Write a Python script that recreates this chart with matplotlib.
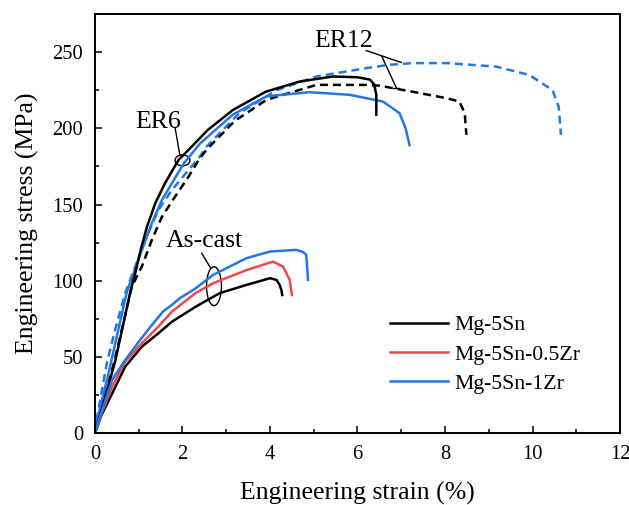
import matplotlib
matplotlib.use("Agg")
import matplotlib.pyplot as plt
from matplotlib.patches import Ellipse
from matplotlib.ticker import MultipleLocator

plt.rcParams['font.family'] = ['Liberation Serif', 'DejaVu Serif']
plt.rcParams['mathtext.fontset'] = 'stix'

# ---- data (strain %, stress MPa) ----
sn_er6_x = [0, 0.46, 0.81, 0.92, 1.05, 1.19, 1.38, 1.6, 1.91, 2.21, 2.58, 3.15, 3.9, 4.68, 5.44, 6.0, 6.28, 6.38, 6.43, 6.43]
sn_er6_y = [0, 47, 93, 105, 121, 135.6, 151, 164, 179.3, 188, 199, 212, 224, 230.7, 234, 233.5, 232, 229, 222, 209]

sn_er12_x = [0, 0.45, 0.84, 1.07, 1.3, 1.53, 1.83, 2.14, 2.37, 2.55, 3.2, 3.92, 5.06, 6.2, 6.5, 7.26, 8.03, 8.33, 8.45, 8.49]
sn_er12_y = [0, 48, 96, 109.3, 126.8, 142, 155.2, 168.4, 179.3, 186, 205, 218.7, 228.5, 228.5, 228, 224, 219.8, 217.6, 210, 195.7]

zr1_er6_x = [0, 0.05, 0.31, 0.73, 1.07, 1.3, 1.53, 1.8, 2.03, 2.4, 3.15, 3.92, 4.9, 5.82, 6.58, 6.96, 7.1, 7.19]
zr1_er6_y = [0, 8.7, 39.4, 92.9, 120, 137.8, 153, 166, 177, 190, 209, 221, 223.7, 222, 217.6, 210, 200, 189]

zr1_er12_x = [0, 0.05, 0.16, 0.27, 0.46, 0.69, 1.15, 1.45, 1.76, 2.14, 2.37, 2.55, 3.3, 4.15, 5.06, 6.2, 6.73, 7.27, 8.03, 9.17, 9.93, 10.46, 10.6, 10.65]
zr1_er12_y = [0, 11, 28.4, 46, 67.8, 91.9, 126.8, 146.5, 159.6, 172.8, 180.4, 188, 210, 225, 234, 239.5, 241.7, 242.8, 242.8, 240.5, 235, 225, 214, 195.7]

sn_cast_x = [0, 0.15, 0.39, 0.69, 1.07, 1.45, 1.76, 2.3, 2.85, 3.46, 4.0, 4.15, 4.22, 4.26, 4.28]
sn_cast_y = [0, 12, 26, 43.7, 56.8, 65.6, 73.2, 83, 91.9, 97.3, 101.7, 100.6, 97.3, 94, 90.7]

zr05_cast_x = [0, 0.15, 0.39, 0.69, 1.07, 1.45, 1.76, 2.3, 2.7, 3.46, 4.07, 4.3, 4.45, 4.5]
zr05_cast_y = [0, 13, 30.6, 47, 59, 70, 79.8, 92, 98.4, 107, 112.6, 109.3, 100.6, 90.7]

zr1_cast_x = [0, 0.15, 0.39, 0.69, 1.0, 1.3, 1.56, 1.76, 1.94, 2.3, 2.7, 3.46, 4.0, 4.6, 4.75, 4.83, 4.87]
zr1_cast_y = [0, 14, 35, 48, 60, 71, 80, 84.2, 88.6, 95, 103.9, 114.8, 119.2, 120.3, 119, 117, 100.6]

legend_labels = ['Mg-5Sn', 'Mg-5Sn-0.5Zr', 'Mg-5Sn-1Zr']
x_ticks = [0, 2, 4, 6, 8, 10, 12]
y_ticks = [0, 50, 100, 150, 200, 250]

BLACK = '#000000'
RED = '#f04848'
BLUE = '#2277e6'

fig = plt.figure(figsize=(6.29, 5.05), dpi=100)
ax = fig.add_axes([0.151, 0.142, 0.8347, 0.8303])

lw = 1.8
dash = (3.2, 2.0)

ax.plot(zr1_er12_x, zr1_er12_y, color=BLUE, lw=lw, dashes=dash)
ax.plot(sn_er12_x, sn_er12_y, color=BLACK, lw=lw, dashes=dash)
ax.plot(zr1_er6_x, zr1_er6_y, color=BLUE, lw=lw)
ax.plot(sn_er6_x, sn_er6_y, color=BLACK, lw=lw)

h1, = ax.plot(sn_cast_x, sn_cast_y, color=BLACK, lw=lw)
h2, = ax.plot(zr05_cast_x, zr05_cast_y, color=RED, lw=lw)
h3, = ax.plot(zr1_cast_x, zr1_cast_y, color=BLUE, lw=lw)

# annotations
ann_fs = 18.5
ax.text(5.68, 257.5, 'ER12', fontsize=ann_fs, ha='center', va='center')
ax.plot([6.2, 7.0], [251, 243.2], color='k', lw=1.0)
ax.plot([6.55, 6.89], [247.6, 226.4], color='k', lw=1.0)
ax.plot([6.82, 6.96], [226.4, 226.4], color='k', lw=1.0)

ax.text(1.44, 204, 'ER6', fontsize=ann_fs, ha='center', va='center')
ax.plot([1.83, 1.94], [200.5, 182.5], color='k', lw=1.0)
ax.add_patch(Ellipse((2.0, 179), 0.34, 7.2, fill=False, ec='k', lw=1.0))

ax.text(2.5, 126, 'As-cast', fontsize=ann_fs, ha='center', va='center')
ax.plot([2.44, 2.64], [118.1, 108.5], color='k', lw=1.0)
ax.add_patch(Ellipse((2.72, 96.5), 0.34, 25.5, fill=False, ec='k', lw=1.0))

ax.set_xlim(0, 12)
ax.set_ylim(0, 275)
ax.set_xticks(x_ticks)
ax.set_yticks(y_ticks)
ax.xaxis.set_minor_locator(MultipleLocator(1))
ax.yaxis.set_minor_locator(MultipleLocator(25))
ax.tick_params(which='both', direction='in', top=False, right=False, width=1.1)
ax.tick_params(which='major', length=5, labelsize=14.8, pad=8.5)
ax.tick_params(which='minor', length=3)
for s in ax.spines.values():
    s.set_linewidth(1.4)

ax.set_xlabel('Engineering strain (%)', fontsize=18.5, labelpad=13)
ax.set_ylabel('Engineering stress (MPa)', fontsize=18.5, labelpad=10)

leg = ax.legend([h1, h2, h3], legend_labels, frameon=False, fontsize=15.7,
                handlelength=2.67, handletextpad=0.3, labelspacing=0.42,
                borderpad=0, borderaxespad=0, loc='upper left',
                bbox_to_anchor=(390 / 629, 1 - 315 / 505),
                bbox_transform=fig.transFigure)

fig.savefig('out.png', dpi=100)
